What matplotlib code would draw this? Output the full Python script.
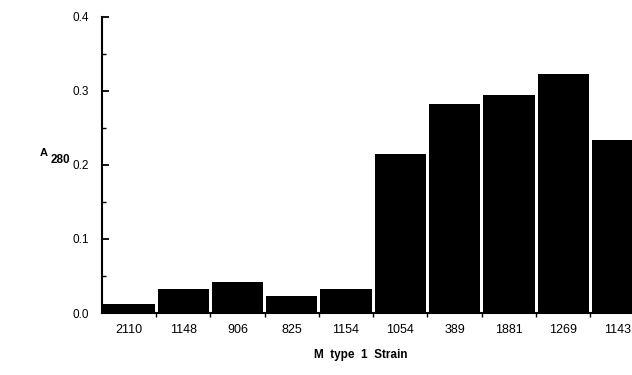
import matplotlib
matplotlib.use("Agg")
from matplotlib import pyplot as plt
import numpy as np

plt.rcParams['font.family'] = ['Liberation Sans', 'DejaVu Sans']

# strain names and absorbance values
strains = ['2110', '1148', '906', '825', '1154', '1054', '389', '1881', '1269', '1143']
a280 = [0.012, 0.033, 0.042, 0.023, 0.033, 0.215, 0.282, 0.294, 0.323, 0.234]
yticks = [0.0, 0.1, 0.2, 0.3, 0.4]

fig = plt.figure(figsize=(6.32, 3.75), dpi=100)
ax = fig.add_axes([0.161, 0.165, 0.859, 0.791])

x = np.arange(len(strains))
ax.bar(x, a280, width=0.945, color='black', edgecolor='none')

ax.set_xlim(-0.5, len(strains) - 0.5)
ax.set_ylim(0, 0.4)

ax.spines['top'].set_visible(False)
ax.spines['right'].set_visible(False)
ax.spines['left'].set_linewidth(1.5)
ax.spines['bottom'].set_linewidth(1.5)

# y axis: major + minor ticks pointing inward
ax.set_yticks(yticks)
ax.set_yticklabels(['%.1f' % v for v in yticks], fontsize=8.5)
ax.set_yticks(np.arange(0.05, 0.4, 0.1), minor=True)
ax.tick_params(axis='y', which='major', direction='in', length=5, width=1.3, pad=9)
ax.tick_params(axis='y', which='minor', direction='in', length=3, width=1.0)

# x axis: labels under bars, ticks at bar boundaries
ax.set_xticks(x)
ax.set_xticklabels(strains, fontsize=9)
ax.tick_params(axis='x', which='major', length=0, pad=8)
ax.set_xticks(np.arange(0.5, len(strains) - 0.5, 1.0), minor=True)
ax.tick_params(axis='x', which='minor', direction='out', length=3, width=1.0)

fig.text(361 / 632, 1 - 355 / 375, 'M  type  1  Strain', fontsize=8.5,
         fontweight='bold', ha='center', va='center')
fig.text(40 / 632, 1 - 153 / 375, 'A', fontsize=8, fontweight='bold',
         ha='left', va='center')
fig.text(51 / 632, 1 - 160 / 375, '280', fontsize=8.5, fontweight='bold',
         ha='left', va='center')

fig.savefig('out.png', dpi=100)
